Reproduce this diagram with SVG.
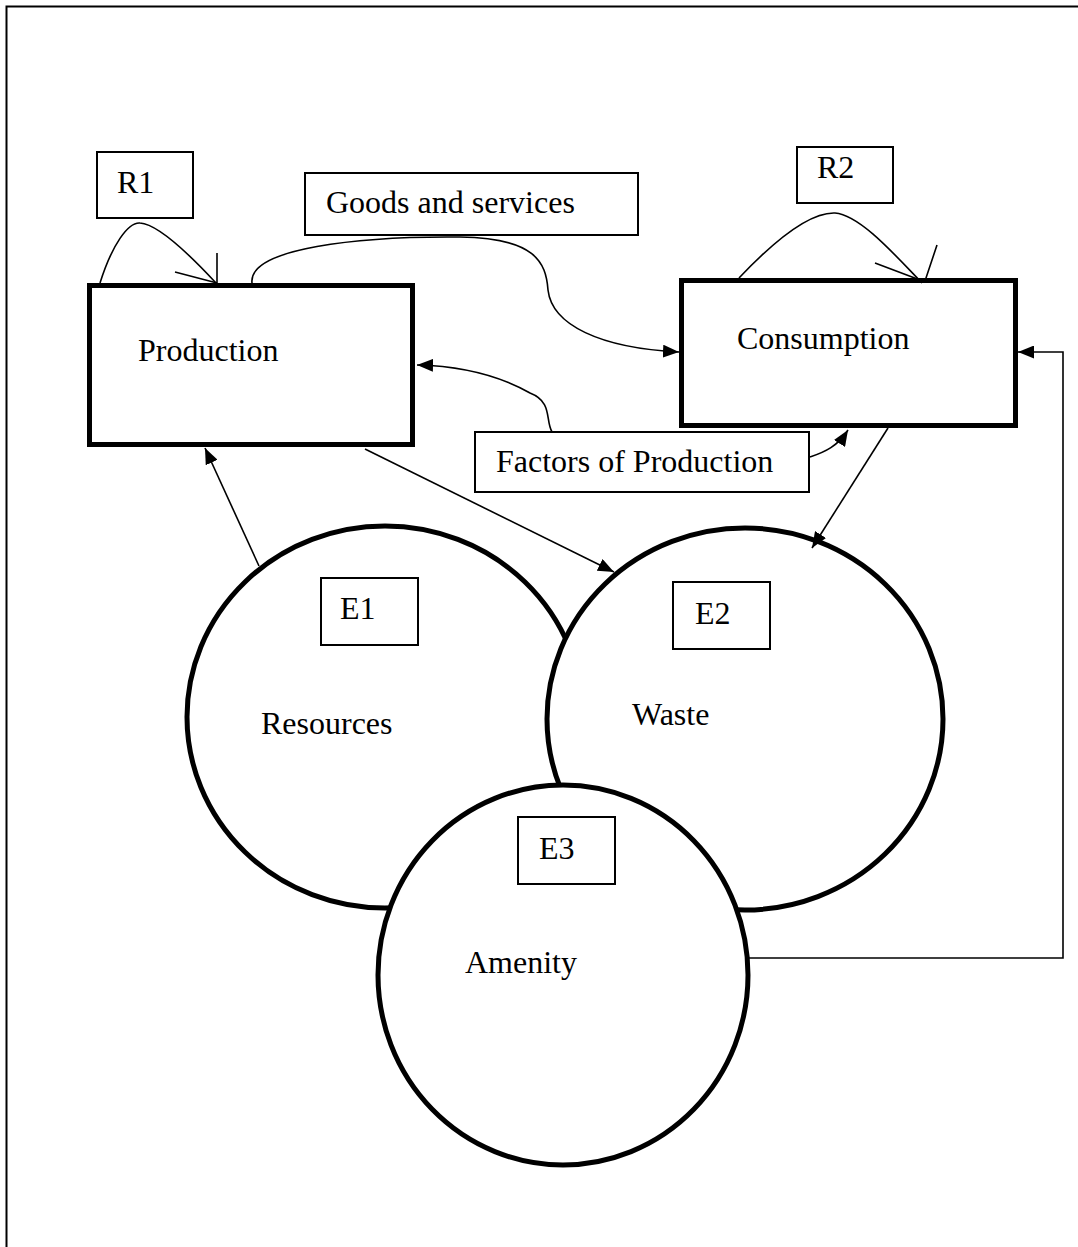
<svg xmlns="http://www.w3.org/2000/svg" width="1078" height="1247" viewBox="0 0 1078 1247">
<style>
text{font-family:"Liberation Serif","Times New Roman",serif;font-size:32px;fill:#000}
.box{fill:#fff;stroke:#000;stroke-width:2}
.main{fill:#fff;stroke:#000;stroke-width:5}
.circ{fill:#fff;stroke:#000;stroke-width:5}
.con{fill:none;stroke:#000;stroke-width:1.6}
</style>
<defs>
<marker id="ah" viewBox="0 0 16 13" markerWidth="16" markerHeight="13" refX="16" refY="6.5" orient="auto" markerUnits="userSpaceOnUse">
<path d="M0,0 L16,6.5 L0,13 z" fill="#000"/>
</marker>
</defs>
<rect width="1078" height="1247" fill="#fff"/>
<path d="M6.5,1247 V6.5 H1078" fill="none" stroke="#000" stroke-width="2"/>

<g id="resources">
<ellipse class="circ" cx="385" cy="717" rx="198" ry="191"/>
</g>
<g id="waste">
<ellipse class="circ" cx="745" cy="719" rx="198" ry="191"/>
</g>
<g id="amenity">
<ellipse class="circ" cx="563" cy="975" rx="185" ry="190"/>
</g>
<g id="e1">
<rect class="box" x="321" y="578" width="97" height="67"/>
<text x="340" y="619">E1</text>
</g>
<g id="e2">
<rect class="box" x="673" y="582" width="97" height="67"/>
<text x="695" y="624">E2</text>
</g>
<g id="e3">
<rect class="box" x="518" y="817" width="97" height="67"/>
<text x="539" y="859">E3</text>
</g>
<text x="261" y="734">Resources</text>
<text x="632" y="725">Waste</text>
<text x="465" y="973">Amenity</text>

<g id="production">
<rect class="main" x="89.5" y="285.5" width="323" height="159"/>
<text x="138" y="361">Production</text>
</g>
<g id="consumption">
<rect class="main" x="681.5" y="280.5" width="334" height="145"/>
<text x="737" y="349">Consumption</text>
</g>
<g id="r1">
<rect class="box" x="97" y="152" width="96" height="66"/>
<text x="117" y="193">R1</text>
</g>
<g id="r2">
<rect class="box" x="797" y="147" width="96" height="56"/>
<text x="817" y="178">R2</text>
</g>
<g id="goods">
<rect class="box" x="305" y="173" width="333" height="62"/>
<text x="326" y="213">Goods and services</text>
</g>
<g id="factors">
<rect class="box" x="475" y="432" width="334" height="60"/>
<text x="496" y="472">Factors of Production</text>
</g>

<g id="connectors">
<path class="con" d="M100,283 C112,245 128,222 140,223 C158,224 190,255 216,283"/>
<path class="con" d="M217,253 V283 M175,272 L217,283"/>
<path class="con" d="M739,278 C775,240 810,212 835,213 C860,215 895,255 922,283"/>
<path class="con" d="M937,245 L925,281 M875,263 L920,280"/>
<path class="con" d="M252,283 C248,248 360,236 460,237 C535,238 546,262 548,290 C552,325 600,348 679,352" marker-end="url(#ah)"/>
<path class="con" d="M552,432 C545,420 553,402 530,393 C500,376 460,366 417,365" marker-end="url(#ah)"/>
<path class="con" d="M810,457 C825,452 838,446 848,430" marker-end="url(#ah)"/>
<path class="con" d="M888,428 L812,548" marker-end="url(#ah)"/>
<path class="con" d="M365,449 L614,572" marker-end="url(#ah)"/>
<path class="con" d="M259,566 L205,448" marker-end="url(#ah)"/>
<path class="con" d="M747,958 H1063 V352 H1018" marker-end="url(#ah)"/>
</g>
</svg>
